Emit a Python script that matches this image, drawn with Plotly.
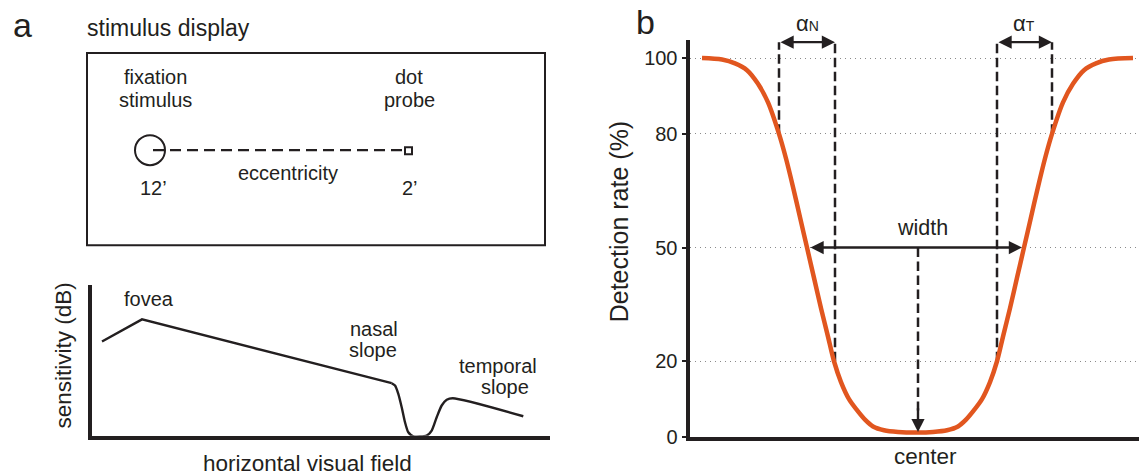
import plotly.graph_objects as go

W, H = 1139, 475
INK = "#231F20"
ORANGE = "#E1561F"
FONT = "Liberation Sans, Arial, sans-serif"

# ---------------- data ----------------
# panel a (lower): schematic sensitivity profile along the horizontal visual field
sens_x = [12, 52, 301.7, 305, 308.3, 311.7, 315, 318.3, 323.3, 330, 336.7, 341.7,
          346.7, 351.7, 356.7, 362.7, 433.3]
sens_y = [96, 118, 54.3, 52, 43.7, 30.3, 15.3, 5.3, 1.3, 1, 2, 7,
          20.3, 32, 37.7, 39.3, 21.3]
sens_bend_index = 2  # straight part ends here, smooth blind-spot dip follows

# panel b: detection rate (%) across eccentricity
det_x = [15, 35, 48, 60, 71, 81, 92, 99, 106, 113, 120, 127, 134, 141, 147, 154, 162,
         170, 178, 186, 197, 211, 231, 246, 260, 271, 279, 287, 295, 303, 310, 316, 323,
         330, 337, 344, 351, 358, 365, 376, 386, 397, 409, 422, 446]
det_y = [100, 99.6, 98.6, 96.8, 93.2, 88.3, 80, 73.5, 66, 58, 50, 42, 34, 26.5, 20, 14.5,
         10, 7.1, 4.6, 2.8, 1.8, 1.35, 1.2, 1.35, 1.8, 2.8, 4.6, 7.1, 10, 14.5, 20, 26.5, 34,
         42, 50, 58, 66, 73.5, 80, 88.3, 93.2, 96.8, 98.6, 99.6, 100]
y_ticks = [0, 20, 50, 80, 100]
y_tick_labels = ["0", "20", "50", "80", "100"]

nasal_x = {"80": 92, "20": 148}      # crossings of the nasal flank
temporal_x = {"20": 310, "80": 365}  # crossings of the temporal flank
width_x = [122, 335]                 # 50 % crossings
center_x = 231
levels = {"80": 80, "20": 20}
alpha_level = 104.2

# ---------------- helpers ----------------
YS = 1.025

def PX(x):
    return x / W

def PY(y):
    return 1 - y * YS / H

fig = go.Figure()

# panel a lower curve
fig.add_trace(go.Scatter(x=sens_x[:sens_bend_index + 1], y=sens_y[:sens_bend_index + 1],
                         mode="lines", line=dict(color=INK, width=2.4),
                         xaxis="x", yaxis="y", hoverinfo="skip", showlegend=False))
fig.add_trace(go.Scatter(x=sens_x[sens_bend_index:], y=sens_y[sens_bend_index:],
                         mode="lines", line=dict(color=INK, width=2.4, shape="spline", smoothing=0.7),
                         xaxis="x", yaxis="y", hoverinfo="skip", showlegend=False))

# panel b dashed guides
DASH_B = "9.5px,4.5px"
for xv, lv in [(nasal_x["80"], levels["80"]), (nasal_x["20"], levels["20"]),
               (temporal_x["20"], levels["20"]), (temporal_x["80"], levels["80"])]:
    fig.add_trace(go.Scatter(x=[xv, xv], y=[lv, alpha_level], mode="lines",
                             line=dict(color=INK, width=2.5, dash=DASH_B),
                             xaxis="x2", yaxis="y2", hoverinfo="skip", showlegend=False))
fig.add_trace(go.Scatter(x=[center_x, center_x], y=[50, 7], mode="lines",
                         line=dict(color=INK, width=2.5, dash=DASH_B),
                         xaxis="x2", yaxis="y2", hoverinfo="skip", showlegend=False))

# panel b curve
fig.add_trace(go.Scatter(x=det_x, y=det_y, mode="lines",
                         line=dict(color=ORANGE, width=4.5, shape="spline", smoothing=0.9),
                         xaxis="x2", yaxis="y2", hoverinfo="skip", showlegend=False))

ann = []

def txt(x, y, s, size=20, xanchor="center", angle=0):
    ann.append(dict(x=PX(x), y=PY(y), xref="paper", yref="paper", text=s, showarrow=False,
                    xanchor=xanchor, yanchor="middle", textangle=angle,
                    font=dict(family=FONT, size=size, color=INK)))

def arrow(x0, x1, y0, y1, sides="end+start"):
    ann.append(dict(x=x1, y=y1, ax=x0, ay=y0, xref="x2", yref="y2", axref="x2", ayref="y2",
                    text="", showarrow=True, arrowhead=2, arrowside=sides, arrowsize=1.1,
                    arrowwidth=2.4, arrowcolor=INK, standoff=0, startstandoff=0,
                    startarrowhead=2, startarrowsize=1.1))

# panel a text
txt(22, 25, "a", 34)
txt(85, 28, "stimulus display", 23, xanchor="left")
txt(155, 77, "fixation")
txt(155, 100, "stimulus")
txt(409, 77, "dot")
txt(409, 100, "probe")
txt(288, 173, "eccentricity")
txt(153, 188, "12’")
txt(410, 188, "2’")
txt(149, 299, "fovea")
txt(374, 329, "nasal")
txt(373, 350, "slope")
txt(498, 366, "temporal")
txt(505, 387, "slope")
txt(63, 355, "sensitivity (dB)", 22.5, angle=-90)
txt(307, 463, "horizontal visual field", 22.5)

# panel b text
txt(645, 22, "b", 34)
txt(619, 222, "Detection rate (%)", 25, angle=-90)
small = "<span style='font-size:14px'>%s</span>"
txt(807, 23, "α" + small % "N", 22)
txt(1024, 23, "α" + small % "T", 22)
txt(922, 228, "width", 21.5)
txt(925, 456, "center", 22.5)

# arrows in panel b
arrow(nasal_x["80"], nasal_x["20"], alpha_level, alpha_level)
arrow(temporal_x["20"], temporal_x["80"], alpha_level, alpha_level)
arrow(width_x[0], width_x[1], 50, 50)
ann.append(dict(x=center_x, y=1.3, ax=center_x, ay=8, xref="x2", yref="y2", axref="x2", ayref="y2",
                text="", showarrow=True, arrowhead=2, arrowsize=1.1, arrowwidth=2.4,
                arrowcolor=INK, standoff=0))

# shapes of the stimulus display schematic
shapes = [
    dict(type="rect", xref="paper", yref="paper", x0=PX(87), x1=PX(545), y0=PY(245), y1=PY(53),
         line=dict(color=INK, width=2)),
    dict(type="circle", xref="paper", yref="paper", x0=PX(135), x1=PX(165), y0=PY(165), y1=PY(135),
         line=dict(color=INK, width=2)),
    dict(type="line", xref="paper", yref="paper", x0=PX(153), x1=PX(404), y0=PY(150), y1=PY(150),
         line=dict(color=INK, width=2.2, dash="11px,6px")),
    dict(type="rect", xref="paper", yref="paper", x0=PX(405), x1=PX(412), y0=PY(154), y1=PY(147),
         line=dict(color=INK, width=2)),
]

fig.update_layout(
    width=W, height=H, margin=dict(l=0, r=0, t=0, b=0),
    paper_bgcolor="white", plot_bgcolor="white",
    font=dict(family=FONT, color=INK),
    showlegend=False,
    xaxis=dict(domain=[PX(91.75), PX(550)], range=[1.75, 460], showline=True, linewidth=3.5,
               linecolor=INK, showticklabels=False, ticks="", showgrid=False, zeroline=False,
               anchor="y", fixedrange=True),
    yaxis=dict(domain=[PY(435.25), PY(285)], range=[1.75, 152], showline=True, linewidth=3.5,
               linecolor=INK, showticklabels=False, ticks="", showgrid=False, zeroline=False,
               anchor="x", fixedrange=True),
    xaxis2=dict(domain=[PX(689.5), 1], range=[2.5, 452], showline=True, linewidth=4,
                linecolor=INK, showticklabels=False, ticks="", showgrid=False, zeroline=False,
                anchor="y2", fixedrange=True),
    yaxis2=dict(domain=[PY(436.5), PY(40)], range=[0, 104.75], showline=True, linewidth=4,
                linecolor=INK, tickvals=y_ticks, ticktext=y_tick_labels, ticks="outside",
                ticklen=4, tickwidth=2, tickcolor=INK,
                tickfont=dict(family=FONT, size=20, color=INK),
                showgrid=True, gridcolor="#8a8a8a", gridwidth=1.2, griddash="1.5px,3.5px",
                zeroline=False, anchor="x2", fixedrange=True),
    annotations=ann,
    shapes=shapes,
)

fig.write_html("out.html")
